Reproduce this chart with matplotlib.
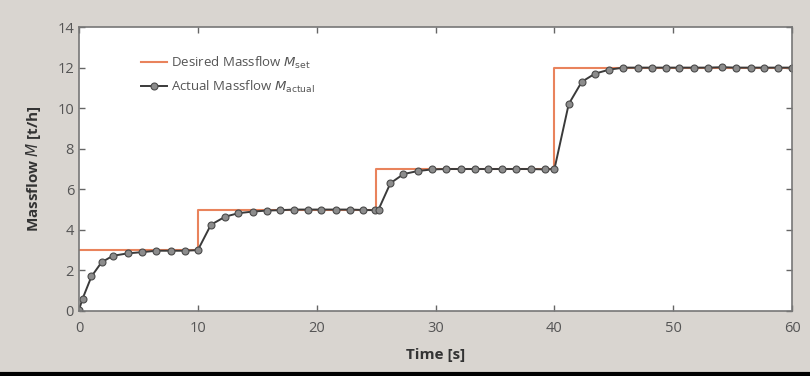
import matplotlib
matplotlib.use("Agg")
import matplotlib.pyplot as plt
from matplotlib.lines import Line2D

# Desired massflow (step setpoints)
set_time = [0, 10, 25, 40, 60]
set_value = [3, 5, 7, 12, 12]

# Actual massflow samples
act_time = [0, 0.3, 1.05, 1.9, 2.85, 4.1, 5.3, 6.5, 7.7, 8.9, 10.0,
            11.1, 12.3, 13.4, 14.6, 15.8, 16.9, 18.1, 19.3, 20.4, 21.6, 22.8, 23.9, 24.9, 25.2,
            26.2, 27.3, 28.5, 29.7, 30.9, 32.1, 33.3, 34.4, 35.6, 36.8, 38.0, 39.2, 40.0,
            41.2, 42.3, 43.4, 44.6, 45.8, 47.0, 48.2, 49.4, 50.5, 51.7, 52.9, 54.1, 55.3, 56.5, 57.6, 58.8, 60.0]
act_value = [0.05, 0.6, 1.7, 2.4, 2.72, 2.84, 2.9, 2.97, 2.97, 2.97, 3.0,
             4.25, 4.65, 4.82, 4.9, 4.95, 4.97, 5.0, 5.0, 5.0, 5.0, 5.0, 4.98, 4.97, 5.0,
             6.3, 6.75, 6.9, 6.98, 7.0, 7.0, 7.0, 7.0, 7.0, 7.0, 7.0, 6.98, 7.0,
             10.2, 11.3, 11.7, 11.9, 12.0, 12.0, 12.0, 12.0, 12.0, 12.0, 12.0, 12.02, 12.0, 12.0, 12.0, 12.0, 12.0]

x_ticks = [0, 10, 20, 30, 40, 50, 60]
y_ticks = [0, 2, 4, 6, 8, 10, 12, 14]

plt.rcParams['font.family'] = ['Open Sans', 'DejaVu Sans']

bg = '#d9d5d0'
fig = plt.figure(figsize=(8.1, 3.76), dpi=100, facecolor=bg)
ax = fig.add_axes([0.0975, 0.173, 0.8805, 0.755])
ax.set_facecolor('white')

ax.step(set_time, set_value, where='post', color='#e9835c', lw=1.5,
        label=r'Desired Massflow $M_{\mathrm{set}}$')
ax.plot(act_time, act_value, color='#3a3a3a', lw=1.4, marker='o', ms=5,
        mfc='#8c8c8c', mec='#4a4a4a', mew=0.8,
        label=r'Actual Massflow $M_{\mathrm{actual}}$')

ax.set_xlim(0, 60)
ax.set_ylim(0, 14)
ax.set_xticks(x_ticks)
ax.set_yticks(y_ticks)
ax.tick_params(direction='in', length=4, width=1, colors='#666666',
               labelcolor='#555555', labelsize=10.5, top=True, right=True)
ax.tick_params(axis='x', pad=7)
for s in ax.spines.values():
    s.set_color('#777777')
    s.set_linewidth(1.2)

ax.set_xlabel('Time [s]', fontsize=11, fontweight='bold', color='#333333', labelpad=9)
ax.set_ylabel(r'Massflow $M$ [t/h]', fontsize=11, fontweight='bold', color='#333333', labelpad=10)

leg = ax.legend(loc='upper left', bbox_to_anchor=(0.07, 0.945), frameon=False,
                fontsize=9.5, handlelength=2.0, handletextpad=0.3, labelspacing=0.6)
for t in leg.get_texts():
    t.set_color('#555555')

fig.add_artist(Line2D([0, 1], [0.004, 0.004], transform=fig.transFigure,
                      color='black', lw=3))

fig.savefig('out.png', dpi=100, facecolor=bg)
